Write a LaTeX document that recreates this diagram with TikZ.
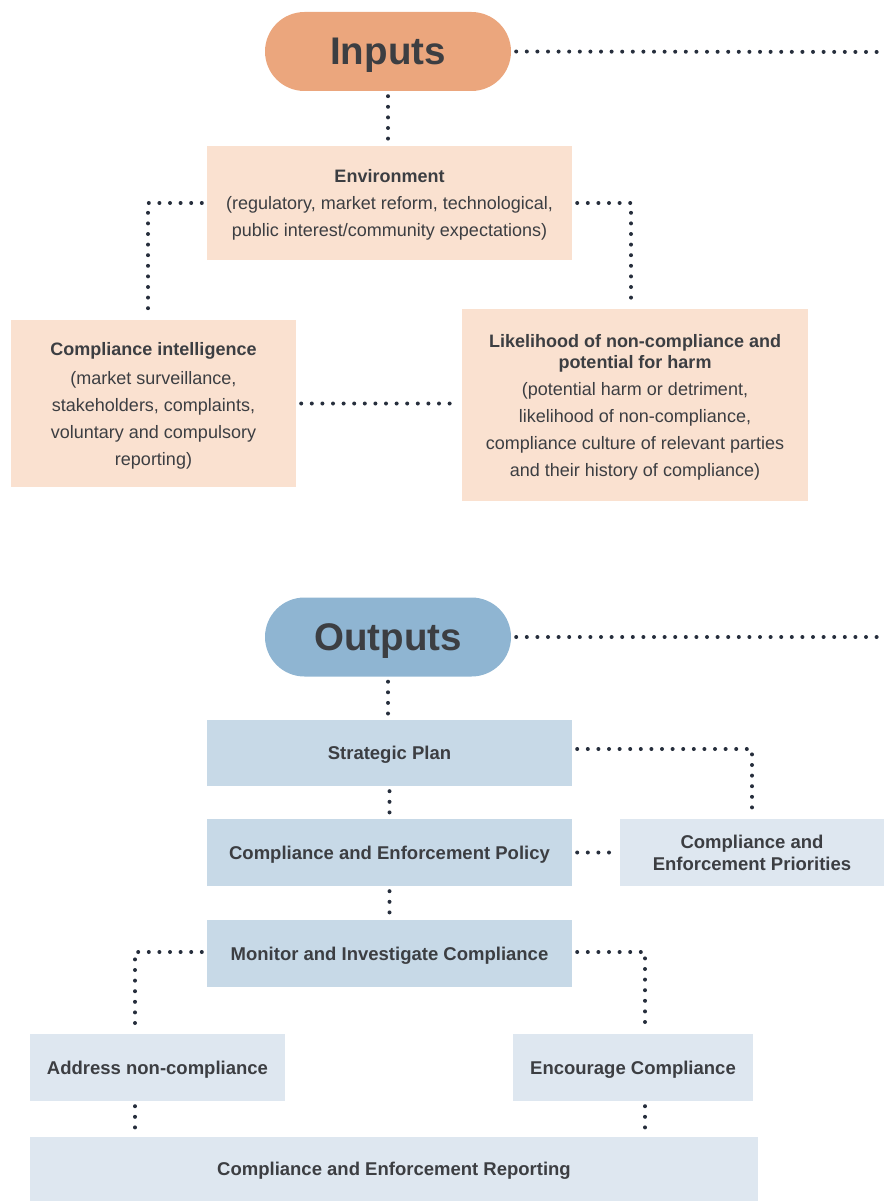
\documentclass[tikz,border=0pt]{standalone}
\usepackage{fontspec}
\setmainfont{Liberation Sans}
\definecolor{orangep}{RGB}{235,166,125}
\definecolor{peachc}{RGB}{250,225,208}
\definecolor{bluep}{RGB}{143,181,210}
\definecolor{bluemid}{RGB}{199,217,231}
\definecolor{bluelight}{RGB}{222,231,240}
\definecolor{txtc}{RGB}{60,62,66}
\definecolor{dotc}{RGB}{38,46,60}
\begin{document}
\begin{tikzpicture}[x=1pt,y=-1pt,
  box/.style={rectangle, inner sep=0pt, align=center, text=txtc, text depth=0pt, font=\fontsize{18}{27}\selectfont},
  peachbox/.style={box, fill=peachc},
  midbox/.style={box, fill=bluemid, font=\fontsize{18.5}{22}\selectfont\bfseries},
  lightbox/.style={box, fill=bluelight, font=\fontsize{18.5}{22}\selectfont\bfseries},
  pill/.style={rectangle, rounded corners=39.5pt, inner sep=0pt, minimum width=246pt, minimum height=79pt, text=txtc, text depth=0pt, font=\fontsize{38.5}{40}\selectfont\bfseries},
  dotline/.style={draw=dotc, line width=4pt, line cap=round, dash pattern=on 0pt off 10.6pt, shorten <=5pt, shorten >=5pt}
]
\useasboundingbox (0,0) rectangle (884,1201);

% ---- Inputs section ----
\node[pill, fill=orangep] (inputs) at (388,51.5) {Inputs};
\coordinate (inend) at (889,52);

\node[peachbox, minimum width=365pt, minimum height=114pt] (env) at (389.5,203)
  {\textbf{Environment}\\(regulatory, market reform, technological,\\public interest/community expectations)};

\node[peachbox, minimum width=285pt, minimum height=167pt] (ci) at (153.5,403.5)
  {\textbf{Compliance intelligence}\\[2pt](market surveillance,\\stakeholders, complaints,\\voluntary and compulsory\\reporting)};

\node[peachbox, minimum width=346pt, minimum height=192pt] (lik) at (635,405)
  {\textbf{Likelihood of non-compliance and}\\[-6pt]\textbf{potential for harm}\\(potential harm or detriment,\\likelihood of non-compliance,\\compliance culture of relevant parties\\and their history of compliance)};

% ---- Outputs section ----
\node[pill, fill=bluep] (outputs) at (388,637) {Outputs};
\coordinate (outend) at (889,637);

\node[midbox, minimum width=365pt, minimum height=66pt] (strat) at (389.5,753) {Strategic Plan};
\node[midbox, minimum width=365pt, minimum height=67pt] (policy) at (389.5,852.5) {Compliance and Enforcement Policy};
\node[lightbox, minimum width=264pt, minimum height=67pt] (prio) at (752,852.5) {Compliance and\\Enforcement Priorities};
\node[midbox, minimum width=365pt, minimum height=67pt] (monitor) at (389.5,953.5) {Monitor and Investigate Compliance};
\node[lightbox, minimum width=255pt, minimum height=67pt] (addr) at (157.5,1067.5) {Address non-compliance};
\node[lightbox, minimum width=240pt, minimum height=67pt] (enc) at (633,1067.5) {Encourage Compliance};
\node[lightbox, minimum width=728pt, minimum height=64pt] (rep) at (394,1169) {Compliance and Enforcement Reporting};

% ---- connectors ----
\draw[dotline] (inputs.east) -- (inend);
\draw[dotline] (inputs.south) -- (inputs.south |- env.north);
\draw[dotline] (env.west) -| ([xshift=-5.5pt]ci.north);
\draw[dotline] (env.east) -| ([xshift=-4pt]lik.north);
\draw[dotline] (ci.east) -- (ci.east -| lik.west);

\draw[dotline] (outputs.east) -- (outend);
\draw[dotline] (outputs.south) -- (outputs.south |- strat.north);
\draw[dotline] ([yshift=4pt]strat.east) -| (prio.north);
\draw[dotline] (strat.south) -- (policy.north);
\draw[dotline] (policy.east) -- (prio.west);
\draw[dotline] (policy.south) -- (monitor.north);
\draw[dotline] ([yshift=1.5pt]monitor.west) -| ([xshift=-22.5pt]addr.north);
\draw[dotline] ([yshift=1.5pt]monitor.east) -| ([xshift=12pt]enc.north);
\draw[dotline] ([xshift=-22.5pt]addr.south) -- ([xshift=-22.5pt]addr.south |- rep.north);
\draw[dotline] ([xshift=12pt]enc.south) -- ([xshift=12pt]enc.south |- rep.north);
\end{tikzpicture}
\end{document}
